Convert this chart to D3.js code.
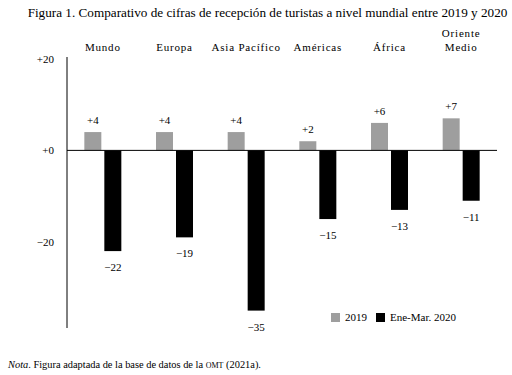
<!DOCTYPE html>
<html>
<head>
<meta charset="utf-8">
<script src="https://cdn.jsdelivr.net/npm/d3@7"></script>
<style>
  body { margin: 0; background: #fff; }
  svg { font-family: "Liberation Serif", "Times New Roman", serif; }
</style>
</head>
<body>
<div class="canvas"></div>
<script>
const categories = ["Mundo", "Europa", "Asia Pacífico", "Américas", "África", "Oriente Medio"]
const values2019 = [4, 4, 4, 2, 6, 7]
const values2020 = [-22, -19, -35, -15, -13, -11]
const tickValues = [20, 0, -20]
const seriesNames = ["2019", "Ene-Mar. 2020"]
const seriesColors = ["#9e9e9e", "#000000"]

const fmt = v => (v < 0 ? "\u2212" + Math.abs(v) : "+" + v)

const svg = d3.select(".canvas")
    .append("svg")
    .attr("width", 512)
    .attr("height", 375)

// title
svg.append("text")
    .attr("x", 267.5)
    .attr("y", 17)
    .attr("text-anchor", "middle")
    .attr("font-size", 13.2)
    .text("Figura 1. Comparativo de cifras de recepción de turistas a nivel mundial entre 2019 y 2020")

// scales
const x = d3.scaleBand()
    .domain(categories)
    .range([67, 497])

const y = d3.scaleLinear()
    .domain([-38.8, 20.4])
    .range([328, 57])

const barW = 17
const gap = 3

// y axis: plain line, labels only
svg.append("line")
    .attr("x1", 67).attr("x2", 67)
    .attr("y1", y.range()[1]).attr("y2", y.range()[0])
    .attr("stroke", "#000")

svg.append("g")
    .selectAll("text")
    .data(tickValues)
    .enter()
    .append("text")
    .attr("x", 54)
    .attr("y", d => y(d) + 4)
    .attr("text-anchor", "end")
    .attr("font-size", 11)
    .text(d => fmt(d))

// bars
const center = c => x(c) + x.bandwidth() / 2

svg.selectAll("rect.y2019")
    .data(values2019)
    .enter()
    .append("rect")
    .attr("class", "y2019")
    .attr("x", (d, i) => center(categories[i]) - gap / 2 - barW)
    .attr("width", barW)
    .attr("y", d => y(d))
    .attr("height", d => y(0) - y(d))
    .attr("fill", seriesColors[0])

svg.selectAll("rect.y2020")
    .data(values2020)
    .enter()
    .append("rect")
    .attr("class", "y2020")
    .attr("x", (d, i) => center(categories[i]) + gap / 2)
    .attr("width", barW)
    .attr("y", y(0))
    .attr("height", d => y(d) - y(0))
    .attr("fill", seriesColors[1])

// zero line
svg.append("line")
    .attr("x1", 67).attr("x2", 497)
    .attr("y1", y(0)).attr("y2", y(0))
    .attr("stroke", "#000")

// value labels
svg.selectAll("text.v2019")
    .data(values2019)
    .enter()
    .append("text")
    .attr("class", "v2019")
    .attr("x", (d, i) => center(categories[i]) - gap / 2 - barW / 2)
    .attr("y", d => y(d) - 8)
    .attr("text-anchor", "middle")
    .attr("font-size", 11)
    .text(d => fmt(d))

svg.selectAll("text.v2020")
    .data(values2020)
    .enter()
    .append("text")
    .attr("class", "v2020")
    .attr("x", (d, i) => center(categories[i]) + gap / 2 + barW / 2)
    .attr("y", d => y(d) + 20)
    .attr("text-anchor", "middle")
    .attr("font-size", 11)
    .text(d => fmt(d))

// category labels
svg.selectAll("text.cat")
    .data(categories)
    .enter()
    .append("text")
    .attr("class", "cat")
    .attr("x", d => center(d))
    .attr("y", 51)
    .attr("text-anchor", "middle")
    .attr("font-size", 11)
    .attr("letter-spacing", 0.8)
    .each(function (d) {
        const t = d3.select(this)
        if (d === "Oriente Medio") {
            t.append("tspan").attr("x", center(d)).attr("dy", -14).text("Oriente")
            t.append("tspan").attr("x", center(d)).attr("dy", 14).text("Medio")
        } else {
            t.text(d)
        }
    })

// legend
const legend = svg.append("g")
const legendX = [331, 376]
seriesNames.forEach((name, i) => {
    legend.append("rect")
        .attr("x", legendX[i])
        .attr("y", 313)
        .attr("width", 9)
        .attr("height", 9)
        .attr("fill", seriesColors[i])
    legend.append("text")
        .attr("x", legendX[i] + 14)
        .attr("y", 321)
        .attr("font-size", 11)
        .text(name)
})

// note
const note = svg.append("text")
    .attr("x", 8)
    .attr("y", 368)
    .attr("font-size", 10.4)
note.append("tspan").attr("font-style", "italic").text("Nota")
note.append("tspan").text(". Figura adaptada de la base de datos de la ")
note.append("tspan").attr("font-size", 8).text("OMT")
note.append("tspan").text(" (2021a).")
</script>
</body>
</html>
